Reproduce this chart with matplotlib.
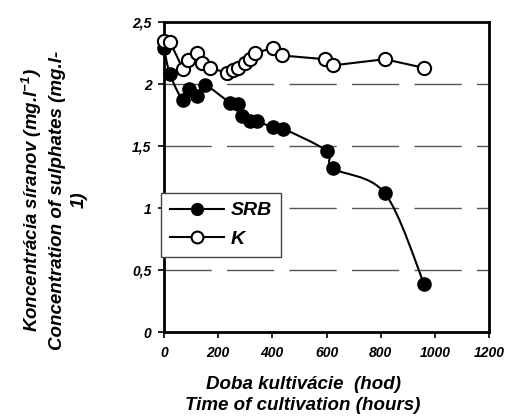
import matplotlib
matplotlib.use("Agg")
import matplotlib.pyplot as plt
import numpy as np
from matplotlib.path import Path
from matplotlib.patches import PathPatch
from matplotlib.lines import Line2D

plt.rcParams['font.family'] = ['Liberation Sans', 'DejaVu Sans']
plt.rcParams['font.weight'] = 'bold'
plt.rcParams['font.style'] = 'italic'
plt.rcParams['mathtext.fontset'] = 'custom'
plt.rcParams['mathtext.rm'] = 'Liberation Sans:bold:italic'
plt.rcParams['mathtext.default'] = 'rm'

# SRB (filled circles)
srb_t = [0, 22, 70, 92, 122, 150, 244, 272, 288, 317, 343, 402, 439, 601, 624, 815, 960]
srb_c = [2.29, 2.08, 1.87, 1.96, 1.90, 1.99, 1.85, 1.84, 1.74, 1.70, 1.70, 1.65, 1.64, 1.46, 1.32, 1.12, 0.39]

# K (open circles)
k_t = [0, 22, 70, 89, 120, 140, 170, 232, 255, 273, 299, 317, 336, 402, 435, 594, 624, 815, 960]
k_c = [2.35, 2.34, 2.12, 2.19, 2.25, 2.17, 2.13, 2.09, 2.11, 2.13, 2.17, 2.20, 2.25, 2.29, 2.23, 2.20, 2.15, 2.20, 2.13]

x_ticks = [0, 200, 400, 600, 800, 1000, 1200]
y_ticks = [0, 0.5, 1, 1.5, 2, 2.5]
y_labels = ['0', '0,5', '1', '1,5', '2', '2,5']


def smooth_path(xs, ys, t=1/6):
    # Excel-style smoothed line: cubic Bezier through points
    pts = np.column_stack([xs, ys])
    verts = [pts[0]]
    codes = [Path.MOVETO]
    n = len(pts)
    for i in range(n - 1):
        p0 = pts[i - 1] if i > 0 else pts[i]
        p1 = pts[i]
        p2 = pts[i + 1]
        p3 = pts[i + 2] if i + 2 < n else pts[i + 1]
        c1 = p1 + (p2 - p0) * t
        c2 = p2 - (p3 - p1) * t
        verts += [c1, c2, p2]
        codes += [Path.CURVE4] * 3
    return Path(verts, codes)


fig = plt.figure(figsize=(5.05, 4.18), dpi=100)
ax = fig.add_axes([164 / 505, 86 / 418, 325 / 505, 310 / 418])

for y in [0.5, 1, 1.5, 2]:
    ax.axhline(y, color='#555555', lw=1, dashes=(34, 11), zorder=1)

ax.add_patch(PathPatch(smooth_path(srb_t, srb_c), fill=False, lw=1.5, color='black', zorder=2))
ax.plot(k_t, k_c, color='black', lw=1.5, zorder=2)
ax.plot(srb_t, srb_c, 'o', ms=9.5, mfc='black', mec='black', zorder=3, clip_on=False)
ax.plot(k_t, k_c, 'o', ms=9.5, mfc='white', mec='black', mew=1.5, zorder=3, clip_on=False)

ax.set_xlim(0, 1200)
ax.set_ylim(0, 2.5)
ax.set_xticks(x_ticks)
ax.set_yticks(y_ticks, labels=y_labels)
ax.tick_params(direction='out', length=4, width=1.2, labelsize=10)
ax.tick_params(axis='x', pad=6)
ax.tick_params(axis='y', pad=5)
for s in ax.spines.values():
    s.set_linewidth(2)

lbl = dict(fontsize=13.5, linespacing=1.38)
fig.text(303 / 505, 1 - 395 / 418, 'Doba kultivácie  (hod)\nTime of cultivation (hours)',
         ha='center', va='center', **lbl)
fig.text(54 / 505, 1 - 200 / 418,
         'Koncentrácia síranov (mg.l$^{-1}$)\nConcentration of sulphates (mg.l-\n1)',
         ha='center', va='center', rotation=90, **lbl)

handles = [
    Line2D([], [], color='black', lw=1.5, marker='o', ms=8.5, mfc='black', mec='black'),
    Line2D([], [], color='black', lw=1.5, marker='o', ms=8.5, mfc='white', mec='black', mew=1.5),
]
leg = ax.legend(handles, ['SRB', 'K'], loc='upper left', bbox_to_anchor=(-0.01, 0.448),
                borderaxespad=0, fancybox=False, framealpha=1, edgecolor='#444444',
                prop={'size': 14},
                handlelength=2.8, handletextpad=0.35, labelspacing=0.55, borderpad=0.45)
leg.get_frame().set_linewidth(1)

fig.savefig('out.png', dpi=100)
